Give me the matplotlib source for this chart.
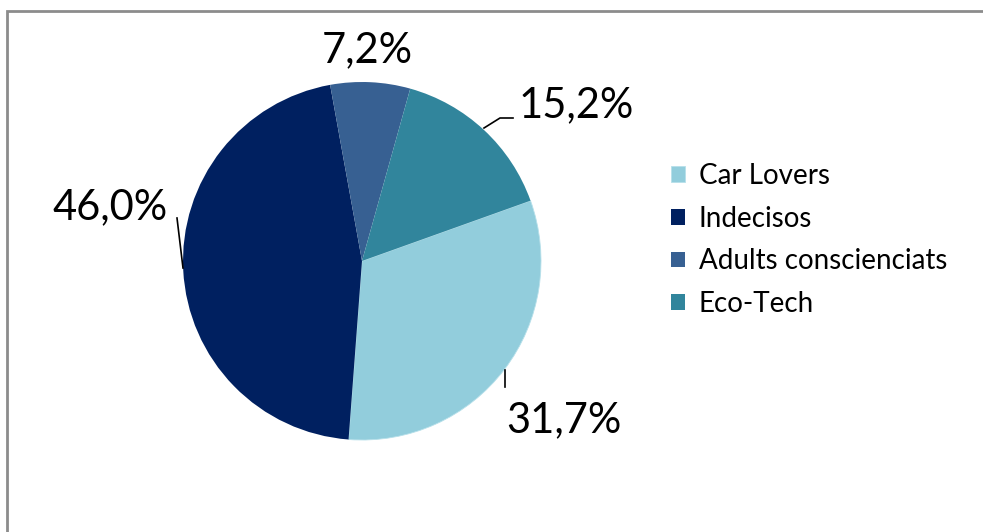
import numpy as np
import matplotlib.pyplot as plt
from matplotlib.patches import Rectangle

categories = ["Car Lovers", "Indecisos", "Adults consciencíats", "Eco-Tech"]
categories[2] = "Adults consciencíats".replace("í", "i")
values = [31.7, 46.0, 7.2, 15.2]
pct_labels = ["31,7%", "46,0%", "7,2%", "15,2%"]
colors = ["#92CDDC", "#002060", "#376092", "#31859C"]

plt.rcParams['font.family'] = ['Lato', 'DejaVu Sans']

fig = plt.figure(figsize=(9.83, 5.32), dpi=100)
ax = fig.add_axes([0, 0, 1, 1])

# frame
ax.add_patch(Rectangle((7, -20), 1100, 532 - 11 + 20, fill=False,
                       edgecolor="#8c8c8c", linewidth=2))

cx, cy, r = 362, 271, 179
wedges, _ = ax.pie(values, colors=colors, startangle=19.7, counterclock=False,
                   center=(cx, cy), radius=r, frame=True,
                   wedgeprops=dict(linewidth=0.6, edgecolor="none"))
wedges[0].set_edgecolor("#B7E0EA")
ax.set_xlim(0, 983)
ax.set_ylim(0, 532)
ax.set_aspect('equal')
ax.axis('off')

# label positions (pixel coords of text centre) and leader lines
text_pos = [(564, 112), (110, 325), (367, 482), (576, 427)]
leaders = [
    [(505, 162), (505, 145)],
    [(183, 264), (177, 314)],
    None,
    [(484, 404), (500, 414), (513, 414)],
]
for lab, pos, ld in zip(pct_labels, text_pos, leaders):
    ax.text(pos[0], pos[1], lab, fontsize=30, ha='center', va='center', color='black')
    if ld is not None:
        xs, ys = zip(*ld)
        ax.plot(xs, ys, color='black', linewidth=1.2)

leg = ax.legend(wedges, categories, loc='upper left', bbox_to_anchor=(660 / 983, 1 - 152 / 532),
                frameon=False, fontsize=20, handlelength=0.5, handleheight=0.5,
                handletextpad=0.5, labelspacing=0.6, borderaxespad=0)

fig.savefig("out.png", dpi=100)
